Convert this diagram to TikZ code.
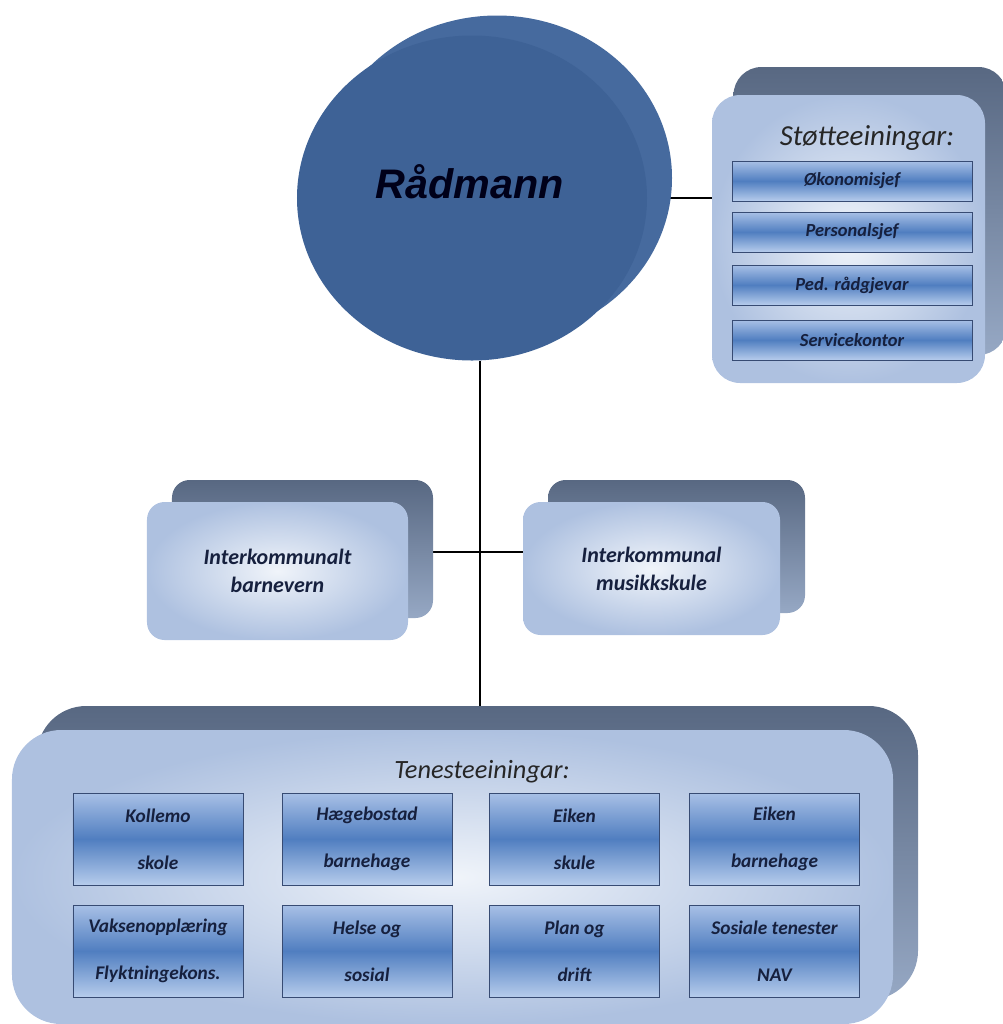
\documentclass[tikz,border=0pt]{standalone}
\usepackage{fontspec}
\setmainfont{Carlito}
\newfontfamily\radfont{Liberation Sans}
\usepackage{xcolor}
\definecolor{radblue}{RGB}{62,98,150}
\definecolor{radblueback}{RGB}{70,106,158}
\definecolor{slatedk}{RGB}{88,104,130}
\definecolor{slatelt}{RGB}{150,168,196}
\definecolor{paneledge}{RGB}{174,193,224}
\definecolor{panelmid}{RGB}{240,244,250}
\definecolor{unittop}{RGB}{168,192,230}
\definecolor{unitmid}{RGB}{80,126,192}
\definecolor{unitbot}{RGB}{182,204,236}
\definecolor{unitline}{RGB}{55,75,115}
\definecolor{inktext}{RGB}{22,32,62}
\usepackage{tikz}
\usetikzlibrary{shapes.geometric, backgrounds}

\begin{document}
\begin{tikzpicture}[x=0.2mm, y=-0.2mm,
  head/.style={ellipse, inner sep=0pt, minimum width=7cm, minimum height=6.5cm},
  slab/.style={rectangle, rounded corners=#1, inner sep=0pt,
               top color=slatedk, bottom color=slatelt},
  face/.style={rectangle, rounded corners=#1, inner sep=0pt,
               inner color=panelmid, outer color=paneledge, text=inktext},
  unit/.style={rectangle, draw=unitline, thin, inner sep=0pt,
               top color=unittop, bottom color=unitbot, middle color=unitmid,
               text=inktext, align=center},
  title/.style={font=\itshape\fontsize{#1}{18}\selectfont, text=black!85},
  wire/.style={draw=black, thick}
]
\useasboundingbox (0,0) rectangle (1003,1024);

% Raadmann
\node[head, fill=radblueback] (radback) at (497,178) {};
\node[head, fill=radblue] (rad) at (472,198) {};
\node[font=\radfont\bfseries\itshape\fontsize{23.5}{28}\selectfont, text=black!90!blue] (radtxt) at (470,182) {Rådmann};

% Stotteeiningar
\node[slab=16pt, minimum width=5.46cm, minimum height=5.76cm] (stotteback) at (870,211) {};
\node[face=16pt, minimum width=5.46cm, minimum height=5.76cm] (stotte) at (848.5,239) {};
\node[title=16.5] (stottetitle) at (867,138) {Støtteeiningar:};
\node[unit, minimum width=4.8cm, minimum height=0.8cm, font=\bfseries\itshape\fontsize{10.5}{12}\selectfont] (okonomi) at (852,181) {Økonomisjef};
\node[unit, minimum width=4.8cm, minimum height=0.8cm, font=\bfseries\itshape\fontsize{10.5}{12}\selectfont] (personal) at (852,232) {Personalsjef};
\node[unit, minimum width=4.8cm, minimum height=0.8cm, font=\bfseries\itshape\fontsize{10.5}{12}\selectfont] (ped) at (852,285) {Ped. rådgjevar};
\node[unit, minimum width=4.8cm, minimum height=0.8cm, font=\bfseries\itshape\fontsize{10.5}{12}\selectfont] (service) at (852,340) {Servicekontor};

% Interkommunale
\node[slab=10pt, minimum width=5.22cm, minimum height=2.76cm] (bvback) at (302.5,549) {};
\node[face=10pt, minimum width=5.22cm, minimum height=2.76cm, align=center,
      font=\bfseries\itshape\fontsize{12.5}{16}\selectfont] (bv) at (277.5,571) {Interkommunalt\\barnevern};
\node[slab=10pt, minimum width=5.14cm, minimum height=2.66cm] (mkback) at (676.5,546.5) {};
\node[face=10pt, minimum width=5.14cm, minimum height=2.66cm, align=center,
      font=\bfseries\itshape\fontsize{12.5}{16}\selectfont] (mk) at (651.5,568.5) {Interkommunal\\musikkskule};

% Tenesteeiningar
\node[slab=28pt, minimum width=17.62cm, minimum height=5.88cm] (tenback) at (477.5,853) {};
\node[face=28pt, minimum width=17.62cm, minimum height=5.88cm] (ten) at (452.5,877) {};
\node[title=15] (tentitle) at (482,772) {Tenesteeiningar:};
\tikzset{grid/.style={unit, minimum width=3.4cm, minimum height=1.84cm,
                      font=\bfseries\itshape\fontsize{11}{26.7}\selectfont}}
\node[grid] (kollemo) at (158,839) {Kollemo\\skole};
\node[grid] (haege) at (367,839) {Hægebostad\\barnehage};
\node[grid] (eikenskule) at (574.5,839) {Eiken\\skule};
\node[grid] (eikenbhg) at (774.5,839) {Eiken\\barnehage};
\node[grid] (vaksen) at (158,951) {Vaksenopplæring\\Flyktningekons.};
\node[grid] (helse) at (367,951) {Helse og\\sosial};
\node[grid] (plan) at (574.5,951) {Plan og\\drift};
\node[grid] (sosiale) at (774.5,951) {Sosiale tenester\\NAV};

% Lines
\coordinate (trunk) at (480,0);
\coordinate (hub) at (480,552);
\begin{scope}[on background layer]
\draw[wire] (rad.east) -- (rad.east -| stotte.west);
\draw[wire] (trunk |- rad.south) -- (trunk |- tenback.north);
\draw[wire] (bvback.east |- hub) -- (mk.west |- hub);
\end{scope}
\end{tikzpicture}
\end{document}
